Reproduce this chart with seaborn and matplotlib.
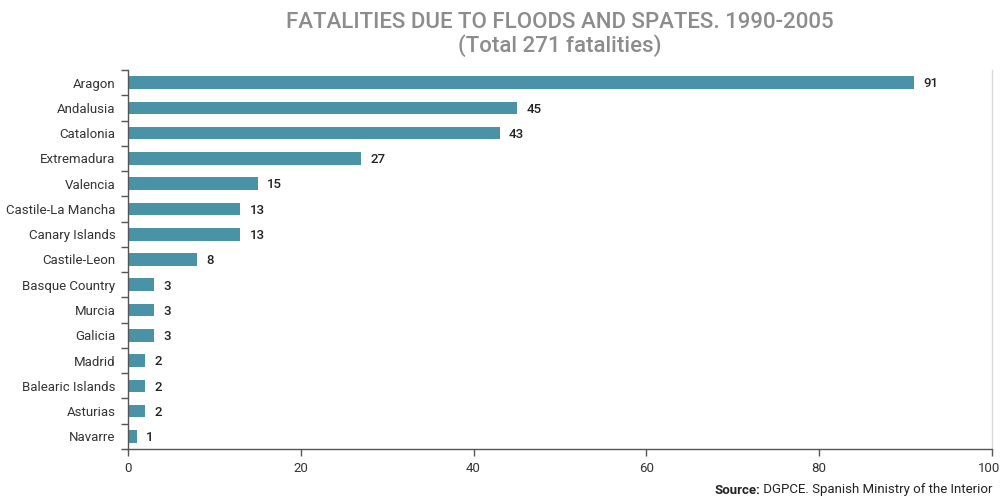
import matplotlib
matplotlib.use("Agg")
import matplotlib.pyplot as plt
import matplotlib.transforms as mtransforms
import seaborn as sns
import pandas as pd
import numpy as np

regions = ["Aragon", "Andalusia", "Catalonia", "Extremadura", "Valencia",
           "Castile-La Mancha", "Canary Islands", "Castile-Leon", "Basque Country",
           "Murcia", "Galicia", "Madrid", "Balearic Islands", "Asturias", "Navarre"]
fatalities = [91, 45, 43, 27, 15, 13, 13, 8, 3, 3, 3, 2, 2, 2, 1]
x_ticks = [0, 20, 40, 60, 80, 100]

sns.set_theme(style="white")
plt.rcParams["font.family"] = ["Roboto", "DejaVu Sans"]

df = pd.DataFrame({"region": regions, "fatalities": fatalities})

fig = plt.figure(figsize=(10.01, 4.97), dpi=100)
ax = fig.add_axes([128 / 1001, 1 - 449 / 497, (992 - 128) / 1001, (449 - 70) / 497])

sns.barplot(data=df, y="region", x="fatalities", color="#4a93a7", saturation=1,
            width=0.5, linewidth=0, ax=ax)

ax.set_xlim(0, 100)
ax.set_ylim(len(regions) - 0.5, -0.5)
ax.set_xticks(x_ticks)
ax.set_xticklabels([str(v) for v in x_ticks])
ax.set_xlabel("")
ax.set_ylabel("")

# tick marks sit between categories on the y axis
ax.set_yticks(np.arange(len(regions)))
ax.set_yticks(np.arange(len(regions) + 1) - 0.5, minor=True)
ax.tick_params(axis="y", which="major", length=0, pad=9, labelsize=9.5, labelcolor="#333333")
ax.tick_params(axis="y", which="minor", length=5, width=1, color="#555555", direction="out", left=True)
ax.tick_params(axis="x", which="major", length=5, width=1, color="#555555", direction="out",
               bottom=True, labelsize=9.5, labelcolor="#333333", pad=4)

# nudge the last x label inward so it stays inside the figure
last = ax.get_xticklabels()[-1]
last.set_transform(last.get_transform() + mtransforms.ScaledTranslation(-3 / 100, 0, fig.dpi_scale_trans))

for side in ["left", "bottom"]:
    ax.spines[side].set_color("#555555")
    ax.spines[side].set_linewidth(1)
ax.spines["top"].set_visible(False)
ax.spines["right"].set_color("#d8d8d8")
ax.spines["right"].set_linewidth(1)

for i, v in enumerate(fatalities):
    ax.text(v + 1.1, i + 0.05, str(v), va="center", ha="left", fontsize=9.5,
            fontweight="medium", color="#222222")

fig.text(560 / 1001, 1 - 22 / 497, "FATALITIES DUE TO FLOODS AND SPATES. 1990-2005",
         ha="center", va="center", fontsize=16, fontweight="medium", color="#8c8c8e")
fig.text(560 / 1001, 1 - 46 / 497, "(Total 271 fatalities)",
         ha="center", va="center", fontsize=16, fontweight="medium", color="#8c8c8e")

# source line: bold label followed by regular text, right-aligned at the axes edge
renderer = fig.canvas.get_renderer()
src_body = fig.text(993 / 1001, 1 - 490 / 497, " DGPCE. Spanish Ministry of the Interior",
                    ha="right", va="center", fontsize=9.5, color="#222222")
bb = src_body.get_window_extent(renderer=renderer)
fig.text(bb.x0 / fig.bbox.width, 1 - 490 / 497, "Source:", ha="right", va="center",
         fontsize=9.5, fontweight="bold", color="#222222")

fig.savefig("out.png", dpi=100)
